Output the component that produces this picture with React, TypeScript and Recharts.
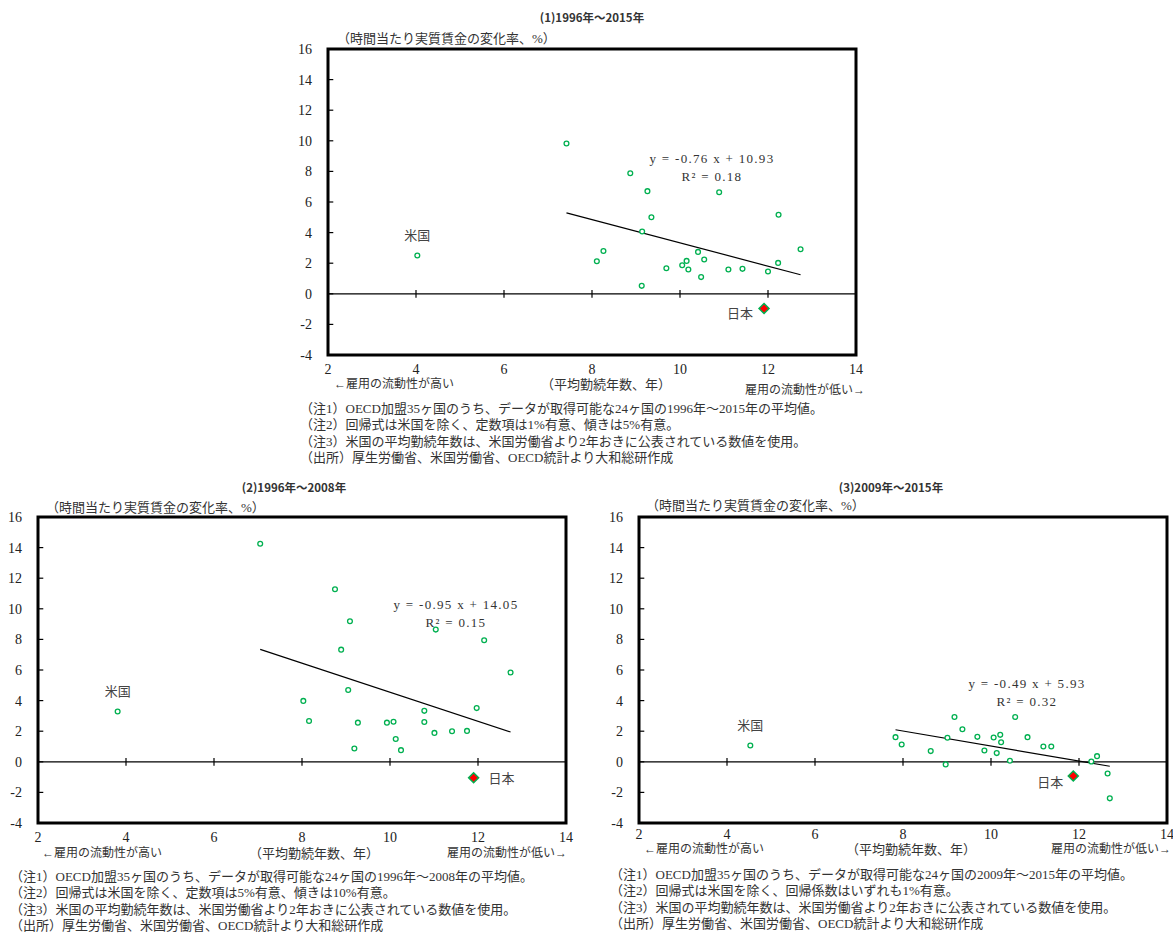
import { ReferenceArea, ReferenceLine, Scatter, ScatterChart, XAxis, YAxis } from "recharts";

const X_TICKS = [2, 4, 6, 8, 10, 12, 14];
const Y_TICKS = [-4, -2, 0, 2, 4, 6, 8, 10, 12, 14, 16];

// (1) 1996–2015: average tenure (years) vs change in hourly real wage (%)
const TENURE_1996_2015 = [7.42, 8.87, 9.26, 10.89, 9.35, 12.24, 9.14, 12.74, 8.26, 8.11, 10.41, 10.15, 10.55, 10.05, 10.19, 9.69, 11.1, 11.42, 12.23, 12.0, 10.48, 9.13];
const WAGE_1996_2015 = [9.82, 7.88, 6.71, 6.64, 5.0, 5.17, 4.07, 2.91, 2.8, 2.13, 2.74, 2.15, 2.24, 1.87, 1.59, 1.67, 1.59, 1.63, 2.02, 1.46, 1.09, 0.52];
const USA_1996_2015 = [4.03, 2.5];
const JAPAN_1996_2015 = [11.91, -0.96];
const FIT_1996_2015 = [-0.76, 10.93, 0.18]; // slope, intercept, R²

// (2) 1996–2008
const TENURE_1996_2008 = [7.05, 8.75, 9.09, 11.04, 12.14, 8.89, 12.74, 9.05, 8.03, 10.78, 11.97, 8.16, 9.27, 9.93, 10.08, 10.78, 11.01, 11.41, 11.75, 10.13, 9.19, 10.25];
const WAGE_1996_2008 = [14.25, 11.28, 9.19, 8.64, 7.94, 7.33, 5.84, 4.69, 3.98, 3.33, 3.51, 2.67, 2.56, 2.56, 2.62, 2.6, 1.89, 2.0, 2.02, 1.49, 0.87, 0.76];
const USA_1996_2008 = [3.81, 3.29];
const JAPAN_1996_2008 = [11.9, -1.04];
const FIT_1996_2008 = [-0.95, 14.05, 0.15];

// (3) 2009–2015
const TENURE_2009_2015 = [9.17, 10.55, 9.35, 7.83, 9.01, 9.69, 10.06, 10.21, 10.23, 10.83, 7.97, 11.19, 11.37, 8.63, 9.85, 10.13, 10.43, 8.97, 12.28, 12.41, 12.65, 12.7];
const WAGE_2009_2015 = [2.93, 2.93, 2.13, 1.61, 1.57, 1.63, 1.59, 1.76, 1.28, 1.61, 1.13, 1.0, 1.0, 0.7, 0.74, 0.57, 0.07, -0.17, 0.02, 0.37, -0.76, -2.39];
const USA_2009_2015 = [4.53, 1.07];
const JAPAN_2009_2015 = [11.87, -0.93];
const FIT_2009_2015 = [-0.49, 5.93, 0.32];

const NOTE_SOURCE = "（出所）厚生労働省、米国労働省、OECD統計より大和総研作成";
const NOTE_USA = "（注3）米国の平均勤続年数は、米国労働省より2年おきに公表されている数値を使用。";

const GREEN = "#00b050";
const SERIF = "'Liberation Serif', 'Noto Sans CJK JP', serif";
const JP = "'Liberation Serif', 'Noto Sans CJK JP', sans-serif";
const GOTHIC = "'Noto Sans CJK JP', sans-serif";

const PLOT_W = 528;
const PLOT_H = 306;
const PAD_L = 40; // margin + y axis width
const PAD_T = 10;

const ring = (p: any) => (
  <circle cx={p.cx} cy={p.cy} r={2.4} fill="#fff" stroke={GREEN} strokeWidth={1.3} />
);

const usaShape = (p: any) => (
  <g>
    <circle cx={p.cx} cy={p.cy} r={2.4} fill="#fff" stroke={GREEN} strokeWidth={1.3} />
    <text x={p.cx} y={p.cy - 21} textAnchor="middle" dominantBaseline="central" fontSize={13} fontFamily={GOTHIC} fill="#444">
      米国
    </text>
  </g>
);

const japanShape = (dx: number, dy: number, anchor: "start" | "end") => (p: any) => (
  <g>
    <polygon
      points={`${p.cx},${p.cy - 5} ${p.cx + 5},${p.cy} ${p.cx},${p.cy + 5} ${p.cx - 5},${p.cy}`}
      fill="#ff0000"
      stroke={GREEN}
      strokeWidth={1.5}
    />
    <text x={p.cx + dx} y={p.cy + dy} textAnchor={anchor} dominantBaseline="central" fontSize={13} fontFamily={GOTHIC} fill="#444">
      日本
    </text>
  </g>
);

function Panel({
  left,
  top,
  tenure,
  wage,
  usa,
  japan,
  fit,
  japanLabel,
  xTickMargin,
}: {
  left: number;
  top: number;
  tenure: number[];
  wage: number[];
  usa: number[];
  japan: number[];
  fit: number[];
  japanLabel: [number, number, "start" | "end"];
  xTickMargin: number;
}) {
  const others = tenure.map((x, i) => ({ x, y: wage[i] }));
  const fitXs = [...tenure, japan[0]];
  const x0 = Math.min(...fitXs);
  const x1 = Math.max(...fitXs);
  const [slope, intercept] = fit;
  const tickFont = { fontSize: 14, fill: "#222", fontFamily: SERIF };

  return (
    <div style={{ position: "absolute", left: left - PAD_L, top: top - PAD_T }}>
      <ScatterChart
        width={PAD_L + PLOT_W + 10}
        height={PAD_T + PLOT_H + 30}
        margin={{ top: PAD_T, right: 10, bottom: 0, left: 10 }}
      >
        <XAxis
          type="number"
          dataKey="x"
          domain={[2, 14]}
          ticks={X_TICKS}
          interval={0}
          axisLine={false}
          tickLine={false}
          tickMargin={xTickMargin}
          height={30}
          tick={tickFont}
        />
        <YAxis
          type="number"
          dataKey="y"
          domain={[-4, 16]}
          ticks={Y_TICKS}
          interval={0}
          axisLine={false}
          tickLine={false}
          tickMargin={10}
          width={30}
          tick={tickFont}
        />
        <ReferenceLine y={0} stroke="#000" strokeWidth={1.2} />
        {X_TICKS.slice(1, -1).map((v) => (
          <ReferenceLine key={`xt${v}`} segment={[{ x: v, y: -0.25 }, { x: v, y: 0.25 }]} stroke="#000" strokeWidth={1.2} />
        ))}
        {Y_TICKS.slice(1, -1).map((v) => (
          <ReferenceLine key={`yt${v}`} segment={[{ x: 2, y: v }, { x: 2.12, y: v }]} stroke="#000" strokeWidth={1.2} />
        ))}
        <ReferenceLine
          segment={[
            { x: x0, y: slope * x0 + intercept },
            { x: x1, y: slope * x1 + intercept },
          ]}
          stroke="#000"
          strokeWidth={1.2}
        />
        <ReferenceArea x1={2} x2={14} y1={-4} y2={16} fill="none" stroke="#000" strokeWidth={3} />
        <Scatter data={others} shape={ring} isAnimationActive={false} />
        <Scatter data={[{ x: usa[0], y: usa[1] }]} shape={usaShape} isAnimationActive={false} />
        <Scatter
          data={[{ x: japan[0], y: japan[1] }]}
          shape={japanShape(japanLabel[0], japanLabel[1], japanLabel[2])}
          isAnimationActive={false}
        />
      </ScatterChart>
    </div>
  );
}

function Txt({
  x,
  y,
  align = "left",
  size = 13,
  bold = false,
  family = JP,
  spacing = 0,
  children,
}: {
  x: number;
  y: number;
  align?: "left" | "center" | "right";
  size?: number;
  bold?: boolean;
  family?: string;
  spacing?: number;
  children: React.ReactNode;
}) {
  const tx = align === "center" ? "-50%" : align === "right" ? "-100%" : "0";
  return (
    <div
      style={{
        position: "absolute",
        left: x,
        top: y,
        transform: `translate(${tx}, -50%)`,
        whiteSpace: "pre",
        fontSize: size,
        lineHeight: 1,
        fontFamily: family,
        fontWeight: bold ? 700 : 400,
        letterSpacing: spacing,
        color: "#333",
      }}
    >
      {children}
    </div>
  );
}

function Equation({ x, y, fit }: { x: number; y: number; fit: number[] }) {
  const [slope, intercept, r2] = fit;
  return (
    <>
      <Txt x={x} y={y} align="center" family={SERIF} spacing={1.3}>
        {`y = ${slope.toFixed(2)} x + ${intercept.toFixed(2)}`}
      </Txt>
      <Txt x={x} y={y + 18} align="center" family={SERIF} spacing={1.3}>
        {`R² = ${r2.toFixed(2)}`}
      </Txt>
    </>
  );
}

function AxisNames({ l, c, r }: { l: [number, number]; c: [number, number]; r: [number, number] }) {
  return (
    <>
      <Txt x={l[0]} y={l[1]} size={12}>←雇用の流動性が高い</Txt>
      <Txt x={c[0]} y={c[1]} align="center">（平均勤続年数、年）</Txt>
      <Txt x={r[0]} y={r[1]} size={12} align="right">雇用の流動性が低い→</Txt>
    </>
  );
}

function Notes({ x, y, lines }: { x: number; y: number; lines: string[] }) {
  return (
    <>
      {lines.map((t, i) => (
        <Txt key={i} x={x} y={y + i * 16.3}>
          {t}
        </Txt>
      ))}
    </>
  );
}

export default function App() {
  return (
    <div style={{ position: "absolute", left: 0, top: 0, width: 1173, height: 933, overflow: "hidden", background: "#fff" }}>
      {/* (1) 1996–2015 */}
      <Txt x={592} y={18} align="center" size={11.5} bold family={GOTHIC}>(1)1996年～2015年</Txt>
      <Txt x={337} y={38}>（時間当たり実質賃金の変化率、%）</Txt>
      <Panel
        left={328}
        top={49}
        tenure={TENURE_1996_2015}
        wage={WAGE_1996_2015}
        usa={USA_1996_2015}
        japan={JAPAN_1996_2015}
        fit={FIT_1996_2015}
        japanLabel={[-11, 4, "end"]}
        xTickMargin={3}
      />
      <Equation x={712} y={158} fit={FIT_1996_2015} />
      <AxisNames l={[334, 384]} c={[606, 384]} r={[865, 390]} />
      <Notes
        x={300}
        y={408}
        lines={[
          "（注1）OECD加盟35ヶ国のうち、データが取得可能な24ヶ国の1996年～2015年の平均値。",
          "（注2）回帰式は米国を除く、定数項は1%有意、傾きは5%有意。",
          NOTE_USA,
          NOTE_SOURCE,
        ]}
      />

      {/* (2) 1996–2008 */}
      <Txt x={294} y={488} align="center" size={11.5} bold family={GOTHIC}>(2)1996年～2008年</Txt>
      <Txt x={46} y={507}>（時間当たり実質賃金の変化率、%）</Txt>
      <Panel
        left={38}
        top={517}
        tenure={TENURE_1996_2008}
        wage={WAGE_1996_2008}
        usa={USA_1996_2008}
        japan={JAPAN_1996_2008}
        fit={FIT_1996_2008}
        japanLabel={[15, 0, "start"]}
        xTickMargin={3}
      />
      <Equation x={456} y={604} fit={FIT_1996_2008} />
      <AxisNames l={[42, 853]} c={[314, 853]} r={[567, 853]} />
      <Notes
        x={10}
        y={876}
        lines={[
          "（注1）OECD加盟35ヶ国のうち、データが取得可能な24ヶ国の1996年～2008年の平均値。",
          "（注2）回帰式は米国を除く、定数項は5%有意、傾きは10%有意。",
          NOTE_USA,
          NOTE_SOURCE,
        ]}
      />

      {/* (3) 2009–2015 */}
      <Txt x={891} y={488} align="center" size={11.5} bold family={GOTHIC}>(3)2009年～2015年</Txt>
      <Txt x={646} y={505}>（時間当たり実質賃金の変化率、%）</Txt>
      <Panel
        left={638.5}
        top={517}
        tenure={TENURE_2009_2015}
        wage={WAGE_2009_2015}
        usa={USA_2009_2015}
        japan={JAPAN_2009_2015}
        fit={FIT_2009_2015}
        japanLabel={[-10, 5, "end"]}
        xTickMargin={0}
      />
      <Equation x={1027} y={683} fit={FIT_2009_2015} />
      <AxisNames l={[644, 849]} c={[911, 849]} r={[1171, 849]} />
      <Notes
        x={610}
        y={874}
        lines={[
          "（注1）OECD加盟35ヶ国のうち、データが取得可能な24ヶ国の2009年～2015年の平均値。",
          "（注2）回帰式は米国を除く、回帰係数はいずれも1%有意。",
          NOTE_USA,
          NOTE_SOURCE,
        ]}
      />
    </div>
  );
}
